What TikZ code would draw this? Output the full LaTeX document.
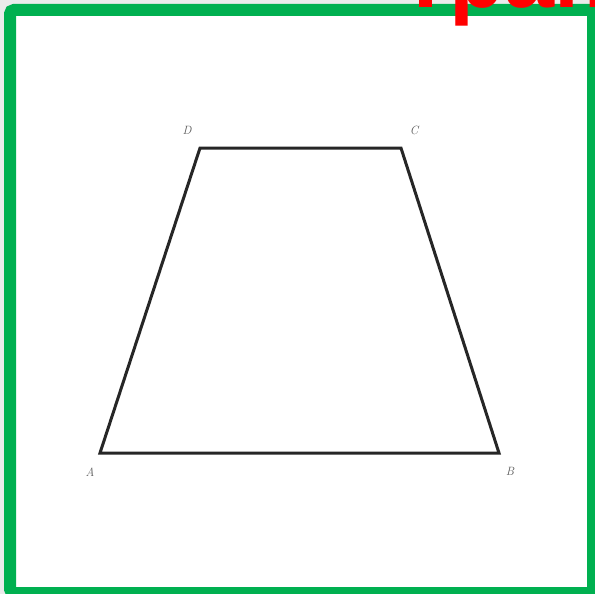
\documentclass[tikz,border=0pt]{standalone}
\usepackage{fontspec}
\newfontfamily\titlefont{Liberation Sans}
\definecolor{framegreen}{HTML}{00B050}
\begin{document}
\begin{tikzpicture}[x=1pt,y=-1pt,
    every node/.style={font=\small},
    vertex/.style={inner sep=0pt},
    vlabel/.style={text=black!65,font=\fontsize{12}{12}\selectfont\itshape},
    edge/.style={line width=3pt,black!85,line join=miter}
]

\useasboundingbox (0,0) rectangle (595,594);
\clip (0,0) rectangle (595,594);

\fill[black!8] (0,0) rectangle (595,594);
\draw[framegreen,line width=12pt,fill=white,rounded corners=4pt] (10,10) rectangle (593,593);

\node[anchor=base west,inner sep=0pt,text=red,
      font=\titlefont\bfseries\fontsize{90}{90}\selectfont] (title) at (398,8) {Трапеция};

\coordinate (A) at (100,453);
\coordinate (B) at (499,453);
\coordinate (C) at (401,148);
\coordinate (D) at (200,148);

\draw[edge] (A) -- (B) -- (C) -- (D) -- cycle;

\node[vlabel] (lA) at (90,472) {A};
\node[vlabel] (lB) at (510,471) {B};
\node[vlabel] (lC) at (414,130) {C};
\node[vlabel] (lD) at (187,130) {D};

\end{tikzpicture}
\end{document}
